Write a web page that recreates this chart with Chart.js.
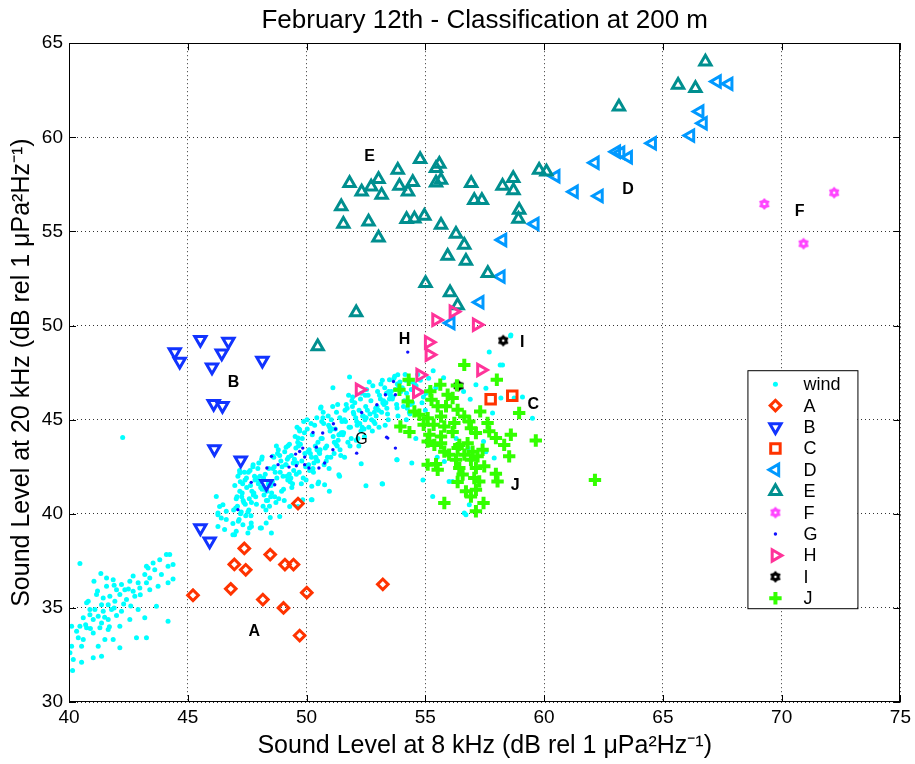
<!DOCTYPE html>
<html lang="en">
<head>
  <meta charset="UTF-8" />
  <title>February 12th - Classification at 200 m</title>
  <script src="https://cdn.jsdelivr.net/npm/chart.js"></script>
  <style>
    body { margin: 0; background: #fff; }
    .wrap { width: 915px; height: 764px; }
  </style>
</head>
<body>
  <div class="wrap"><canvas id="scatter" width="915" height="764"></canvas></div>

  <script>
    const chartTitle = "February 12th - Classification at 200 m";
    const xTitle = "Sound Level at 8 kHz (dB rel 1 \u03BCPa\u00B2Hz\u207B\u00B9)";
    const yTitle = "Sound Level at 20 kHz (dB rel 1 \u03BCPa\u00B2Hz\u207B\u00B9)";
    const xTicks = [40, 45, 50, 55, 60, 65, 70, 75];
    const yTicks = [30, 35, 40, 45, 50, 55, 60, 65];
    const seriesNames = ["wind", "A", "B", "C", "D", "E", "F", "G", "H", "I", "J"];

    // cluster letters written on the plot, in data units
    const groupNames = ["A", "B", "C", "D", "E", "F", "G", "H", "I", "J"];
    const groupLabelX = [47.8, 46.93, 59.54, 63.53, 52.65, 70.76, 52.31, 54.12, 59.08, 58.78];
    const groupLabelY = [33.74, 46.96, 45.79, 57.2, 59.0, 56.03, 43.93, 49.24, 49.08, 41.49];

    const windPts = [
      // low cloud
      [40.46,37.36],[41.34,36.83],[41.05,36.41],[41.58,36.59],[41.86,36.5],[42.21,36.24],[42.56,36.41],[42.91,36.33],
      [43.19,36.77],[43.33,37.12],[43.54,37.39],[43.82,37.56],[44.1,37.83],[44.24,37.83],[44.38,37.3],[44.17,37.21],
      [43.61,37.03],[43.89,36.77],[43.4,36.59],[43.26,36.33],[43.4,35.97],[43.75,36.15],[44.17,36.33],[44.38,36.54],
      [42.98,36.06],[42.7,35.88],[42.35,35.97],[42.14,35.71],[41.72,35.62],[41.44,35.53],[41.16,35.71],[40.81,35.35],
      [40.74,35.27],[41.37,35.17],[41.93,35.35],[42.42,35.44],[42.77,35.62],[42.91,34.91],[43.68,35.09],[43.19,34.47],
      [44.17,34.29],[41.09,34.91],[41.44,34.82],[41.79,34.91],[42.21,34.82],[42.56,34.38],[42.14,34.02],[41.65,33.85],
      [41.37,34.2],[41.02,34.38],[40.6,34.47],[40.46,34.02],[40.11,34.02],[40.32,33.76],[40.74,33.94],[41.02,33.67],
      [41.3,33.94],[40.39,33.41],[40.6,33.32],[40.11,32.96],[40.53,32.96],[41.23,32.96],[41.51,33.32],[41.86,33.32],
      [42.14,32.88],[42.84,33.41],[43.26,33.41],[40.04,32.61],[40.18,32.26],[40.53,32.11],[41.37,32.43],[41.02,32.35],
      [40.15,31.67],[40.88,34.91],[41.58,36.15],[42.0,35.97],[41.23,34.56],[41.65,34.38],[40.88,34.64],[41.65,35.17],
      [41.9,35.0],[42.3,35.2],[42.6,35.1],[41.5,34.5],[42.0,34.6],[41.2,35.9],[42.5,36.0],[43.0,35.7],[40.9,33.9],
      [41.7,34.0],[40.7,34.1],[41.9,36.2],[42.7,36.7],[43.26,37.21],
      // tail towards the main band
      [46.2,40.92],[46.27,39.95],[46.48,40.48],[46.62,39.69],[46.9,39.48],[47.32,39.42],[47.04,39.07],[47.53,38.98],
      [48.05,39.25],[48.3,39.51],[46.9,38.89],[46.55,39.16],[47.6,39.25],[46.27,40.04],[46.27,39.33],[46.97,38.89],
      [47.67,39.51],[48.52,38.98],[48.1,39.25],[47.68,39.33],[48.87,39.86],[49.64,40.39],[49.29,40.39],[49.84,40.75],
      [46.41,39.78],[46.62,40.13],[46.34,40.39],
      // main band
      [47.07,40.9],[47.31,41.6],[47.02,40.3],[47.44,39.9],[47.19,41.2],[47.36,40.6],[47.11,42.0],[47.48,41.4],[47.25,40.1],
      [47.04,40.8],[47.41,41.8],[47.16,39.7],[47.29,41.1],[47.09,40.4],[47.38,42.2],[47.22,40.0],[47.47,41.9],[47.13,39.6],
      [47.33,40.7],[46.98,41.5],[47.27,40.9],[47.42,40.5],[47.18,42.3],[46.93,40.2],[47.21,41.7],
      [47.57,40.2],[48.13,41.3],[47.81,42.0],[48.36,40.7],[47.66,39.9],[48.02,41.7],[48.44,40.4],[47.74,42.5],[48.21,41.0],
      [47.53,40.1],[47.92,41.9],[48.31,40.7],[47.62,42.3],[48.07,41.4],[48.47,39.8],[47.86,40.9],[48.26,42.1],[47.7,41.2],
      [48.17,40.4],[47.99,42.7],[48.39,41.6],[47.59,40.8],[48.04,42.0],[47.78,41.1],[48.29,40.2],[47.95,42.4],[48.42,41.5],
      [47.68,40.6],[48.11,42.9],[47.83,41.8],[48.49,40.9],[47.55,42.2],[48.24,41.3],[47.89,40.5],[48.33,41.2],[47.64,41.5],
      [48.19,41.9],[47.97,41.6],[48.41,42.4],[47.76,41.0],
      [48.56,41.7],[49.12,42.6],[48.83,40.8],[49.34,41.9],[48.62,43.0],[49.03,41.3],[49.46,42.3],[48.71,40.6],[49.21,41.8],
      [48.92,42.8],[48.53,41.1],[49.27,42.1],[48.78,43.2],[49.41,41.6],[48.97,42.5],[48.66,40.9],[49.17,42.0],[48.87,43.1],
      [49.38,41.4],[48.59,42.4],[49.08,43.3],[48.75,41.9],[49.44,42.7],[48.95,41.2],[49.24,43.0],[48.68,42.2],[49.31,41.7],
      [48.81,43.4],[49.14,42.6],[48.51,41.5],[49.36,43.1],[49.01,42.0],[49.49,42.9],[48.89,42.2],[49.19,42.9],[48.64,42.5],
      [49.06,40.7],[48.73,43.6],[49.28,43.7],
      [49.57,42.1],[50.06,43.3],[49.78,41.6],[50.31,42.7],[49.63,43.8],[50.13,42.3],[50.44,43.4],[49.86,41.9],[50.21,43.0],
      [49.52,44.1],[49.96,42.5],[50.37,43.6],[49.69,42.2],[50.16,43.2],[49.91,44.3],[50.47,42.8],[49.74,43.7],[50.27,42.4],
      [49.55,43.5],[50.03,44.5],[50.41,42.9],[49.82,44.0],[50.09,42.6],[49.66,43.6],[50.34,44.7],[49.93,43.2],[50.24,44.2],
      [49.59,42.7],[50.48,43.8],[49.88,44.9],[50.11,43.4],[49.71,44.4],[50.39,43.0],[49.6,44.6],[50.02,45.0],[50.29,42.2],
      [49.8,42.8],[50.19,44.8],[49.98,41.8],[50.43,45.1],
      [50.57,43.4],[51.08,44.5],[50.83,42.8],[51.33,43.9],[50.64,44.9],[51.16,43.2],[51.46,44.3],[50.74,42.6],[51.24,43.7],
      [50.93,44.7],[50.52,43.3],[51.38,44.2],[50.88,43.0],[51.12,44.1],[50.69,45.1],[51.29,43.6],[50.97,44.6],[51.44,43.1],
      [50.61,44.0],[51.04,45.0],[50.79,43.5],[51.21,44.5],[50.55,43.2],[51.36,44.2],[50.91,45.2],[51.17,43.8],[50.72,44.8],
      [51.41,43.4],[50.99,44.4],[51.26,45.4],[50.66,44.0],[51.49,44.9],[50.85,43.6],[50.7,45.4],[51.1,45.7],[50.95,42.4],
      [51.31,45.8],[50.59,45.6],[51.02,43.0],[51.4,45.1],
      [51.56,44.3],[52.07,45.1],[51.83,43.6],[52.34,44.6],[51.62,45.5],[52.16,44.0],[52.46,45.0],[51.74,43.8],[52.24,44.8],
      [51.93,45.7],[51.53,44.2],[52.39,45.2],[51.88,44.0],[52.11,44.9],[51.67,45.8],[52.29,44.4],[51.97,45.4],[52.44,44.1],
      [51.59,45.0],[52.03,45.9],[51.79,44.6],[52.21,45.5],[51.51,44.3],[52.36,45.2],[51.91,46.0],[52.13,44.7],[51.71,45.6],
      [52.42,44.5],[51.99,45.3],[52.27,46.1],[51.64,44.9],[52.49,45.7],[51.85,44.6],[51.6,43.0],[52.2,43.6],[51.94,46.2],
      [52.31,46.4],[51.77,46.3],[52.09,43.9],[52.47,46.3],
      [52.56,45.5],[53.07,46.3],[52.83,44.9],[53.34,45.9],[52.62,44.6],[53.16,45.4],[53.46,46.5],[52.74,45.0],[53.24,46.0],
      [52.93,45.2],[52.53,46.6],[53.38,45.6],[52.88,44.8],[53.11,46.1],[52.67,45.3],[53.29,46.7],[52.97,45.7],[53.44,45.0],
      [52.59,46.3],[53.03,45.5],[52.79,46.8],[53.21,45.9],[52.51,45.1],[53.36,46.4],[52.91,45.6],[53.13,46.9],[52.71,46.0],
      [53.41,45.3],[52.99,46.5],[53.26,45.8],[52.64,47.0],[53.49,46.1],[52.85,45.4],[53.19,47.1],[52.77,44.4],[53.31,44.7],
      [53.05,44.6],
      [53.57,46.5],[54.08,45.7],[53.82,46.9],[54.33,45.4],[53.63,46.2],[54.17,47.1],[54.46,45.9],[53.74,46.6],[54.24,45.6],
      [53.93,47.0],[53.53,46.3],[54.38,45.8],[53.88,46.8],[54.12,46.0],[53.68,47.2],[54.29,45.9],[53.97,46.5],[54.44,47.0],
      [53.61,46.1],[54.03,46.7],[53.79,45.8],[54.21,46.4],[53.71,47.3],[54.41,46.6],[53.85,45.2],[54.15,47.4],[54.35,45.3],
      [54.55,46.9],[54.92,46.2],[54.68,47.4],[55.21,46.6],[54.79,47.1],[55.03,46.4],[55.33,47.6],[54.61,46.8],[55.14,47.2],
      [54.86,45.9],[55.44,46.7],
      // stray points
      [42.26,44.05],[52.5,41.49],[53.2,41.58],[52.3,42.66],[53.8,42.87],[51.81,47.26],[51.36,42.07],[50.76,41.54],
      [50.2,40.75],[50.48,41.6],[49.71,44.46],[48.13,43.02],[49.14,43.54],[51.39,41.99],[51.11,46.7],[50.61,45.67],
      [49.68,44.5],[49.64,44.02],[49.22,43.61],[48.58,43.05],[47.75,42.61],[47.19,42.17],[50.23,40.75],[50.22,41.46],
      [50.51,41.69],[50.96,41.19],[53.84,47.38],[53.49,47.12],
      [57.69,48.6],[58.15,47.91],[55.77,47.23],[57.55,46.67],[58.18,46.15],[56.89,46.09],[56.61,46.5],[57.83,45.35],
      [59.51,45.08],[53.81,45.62],[54.43,42.7],[53.81,42.87],[55.8,42.78],[55.31,40.92],[56.71,39.95],[56.15,41.72],
      [56.85,40.48],[57.55,43.3],[57.9,42.96],[57.45,43.84],[58.6,49.5],[58.25,47.91],[58.74,46.15],[59.09,46.2],
      [57.13,46.86],[56.64,40.04],[56.0,41.72],[53.18,41.6],[58.59,49.45],[55.0,45.5],[54.6,44.0],[55.5,43.0],
      [56.3,44.0],[54.2,45.0],[55.2,46.6],[56.8,43.5],[54.9,41.8]
    ];
    const classA = [[49.64,40.54],[47.38,38.16],[48.47,37.83],[46.96,37.31],[47.44,37.02],[49.09,37.3],[49.45,37.3],
      [46.81,36.01],[45.22,35.67],[48.16,35.44],[50.01,35.81],[49.03,35.0],[49.71,33.53],[53.21,36.25]];
    const classB = [[44.45,48.6],[44.66,48.09],[45.53,49.24],[46.71,49.15],[46.43,48.53],[46.02,47.79],[48.14,48.14],
      [46.09,45.84],[46.46,45.74],[46.12,43.44],[47.23,42.84],[48.31,41.6],[45.53,39.25],[45.92,38.54]];
    const classC = [[57.75,46.09],[58.66,46.27]];
    const classD = [[60.49,57.93],[61.26,57.11],[59.61,55.4],[58.25,54.55],[58.18,52.6],[57.29,51.24],[56.07,50.13],
      [62.31,56.88],[62.14,58.65],[63.04,59.23],[63.22,59.18],[63.54,58.94],[64.55,59.68],[66.16,60.09],[66.69,60.75],
      [66.55,61.37],[67.28,62.96],[67.77,62.84]];
    const classE = [[54.78,58.83],[55.59,58.58],[55.45,58.35],[53.84,58.26],[51.81,57.56],[53.03,57.77],[52.72,57.38],
      [52.32,57.11],[53.16,56.94],[53.91,57.42],[54.47,57.61],[54.27,57.11],[55.45,57.59],[55.66,57.73],[56.93,57.56],
      [58.25,57.42],[58.7,57.83],[58.71,57.17],[57.06,56.65],[57.38,56.65],[59.79,58.26],[60.1,58.17],[51.46,56.32],
      [58.95,56.14],[58.92,55.66],[51.55,55.4],[52.61,55.52],[54.21,55.65],[54.54,55.68],[54.96,55.82],[55.66,55.34],
      [53.03,54.67],[56.29,54.87],[56.64,54.28],[55.94,53.7],[56.71,53.43],[57.63,52.78],[55.01,52.25],[56.04,51.75],
      [56.36,51.06],[52.09,50.69],[50.47,48.88],[66.79,64.01],[65.64,62.78],[66.37,62.6],[63.15,61.62]];
    const classF = [[69.27,56.46],[72.21,57.06],[70.92,54.35]];
    const classG = [[53.66,47.03],[53.32,46.32],[52.96,45.79],[52.32,45.38],[51.13,44.78],[51.22,44.5],[50.68,44.29],
      [50.27,44.32],[51.11,43.4],[50.76,42.7],[49.84,43.49],[49.71,43.31],[49.54,43.17],[49.92,43.01],[49.92,42.61],
      [49.57,42.55],[49.26,42.48],[50.1,42.43],[48.8,42.61],[48.52,43.05],[48.33,42.43],[47.67,41.67],[48.66,41.54],
      [47.11,40.22],[52.11,43.22],[53.42,44.02],[53.74,43.49],[50.41,43.54],[50.52,42.43],[54.26,48.59],[53.74,46.32],
      [53.37,44.07]];
    const classH = [[55.45,50.3],[56.18,50.74],[57.16,50.04],[55.14,49.11],[55.17,48.45],[54.78,47.37],[54.64,46.47],
      [57.34,47.64],[52.23,46.59]];
    const classI = [[58.28,49.2],[56.4,46.8]];
    const classJ = [[56.64,47.91],[58.01,47.12],[54.3,47.12],[53.91,46.59],[55.63,46.86],[56.33,46.82],[55.21,46.51],
      [55.94,46.32],[54.26,45.97],[55.26,46.06],[56.15,46.15],[55.52,45.71],[55.87,45.71],[58.95,45.35],[57.31,45.44],
      [54.75,45.26],[55.1,45.08],[55.66,45.17],[56.64,45.17],[53.95,44.64],[54.33,44.34],[54.93,44.73],[55.35,44.73],
      [55.8,44.64],[56.22,44.82],[56.85,44.9],[56.92,44.55],[57.62,44.82],[57.69,44.38],[55.17,44.2],[55.66,44.11],
      [56.15,44.34],[57.13,44.29],[58.6,44.2],[55.1,43.84],[55.66,43.75],[56.43,43.66],[56.78,43.75],[57.97,44.02],
      [58.32,43.66],[59.65,43.89],[55.8,43.3],[56.36,43.49],[56.64,43.14],[57.2,43.05],[57.41,43.4],[58.53,43.05],
      [56.29,42.87],[56.92,42.87],[55.1,42.61],[55.45,42.64],[55.52,42.34],[56.43,42.43],[57.13,42.43],[57.48,42.52],
      [56.57,42.08],[57.97,42.12],[56.36,41.69],[57.06,41.9],[57.27,41.72],[58.04,41.72],[56.71,41.19],[57.13,41.28],
      [56.92,40.92],[57.45,40.57],[55.8,40.57],[57.13,40.13],[62.14,41.8],[54.54,45.44],[56.36,45.52],[55.38,43.66],
      [56.99,43.3],[56.0,43.14]];

    // filled six-point star used for F and I
    function starMarker(color, outer, inner, hole) {
      const c = document.createElement("canvas");
      const s = Math.ceil(outer * 2 + 2);
      c.width = s; c.height = s;
      const g = c.getContext("2d");
      g.translate(s / 2, s / 2);
      g.beginPath();
      for (let i = 0; i < 12; i++) {
        const r = i % 2 === 0 ? outer : inner;
        const a = -Math.PI / 2 + i * Math.PI / 6;
        g.lineTo(r * Math.cos(a), r * Math.sin(a));
      }
      g.closePath();
      g.fillStyle = color;
      g.fill();
      g.beginPath();
      g.arc(0, 0, hole, 0, 2 * Math.PI);
      g.fillStyle = "#fff";
      g.fill();
      return c;
    }

    const none = "rgba(0,0,0,0)";
    const toXY = pts => pts.map(p => ({ x: p[0], y: p[1] }));

    const datasets = [
      { data: toXY(windPts), pointStyle: "circle", pointRadius: 2.5, borderWidth: 0, backgroundColor: "#00ffff", borderColor: "#00ffff" },
      { data: toXY(classA), pointStyle: "rectRot", pointRadius: 5.3, borderWidth: 3, backgroundColor: none, borderColor: "#ff3300" },
      { data: toXY(classB), pointStyle: "triangle", rotation: 180, pointRadius: 6.5, borderWidth: 3, backgroundColor: none, borderColor: "#1133ff" },
      { data: toXY(classC), pointStyle: "rect", pointRadius: 6.7, borderWidth: 3, backgroundColor: none, borderColor: "#ff3300" },
      { data: toXY(classD), pointStyle: "triangle", rotation: 270, pointRadius: 6.5, borderWidth: 3, backgroundColor: none, borderColor: "#0099ff" },
      { data: toXY(classE), pointStyle: "triangle", rotation: 0, pointRadius: 6.5, borderWidth: 3, backgroundColor: none, borderColor: "#008f8f" },
      { data: toXY(classF), pointStyle: starMarker("#ff44ff", 6, 4.2, 1.3), pointRadius: 5, borderWidth: 0, backgroundColor: "#ff44ff", borderColor: "#ff44ff" },
      { data: toXY(classG), pointStyle: "circle", pointRadius: 1.7, borderWidth: 0, backgroundColor: "#1111ff", borderColor: "#1111ff" },
      { data: toXY(classH), pointStyle: "triangle", rotation: 90, pointRadius: 6.5, borderWidth: 3, backgroundColor: none, borderColor: "#ff3399" },
      { data: toXY(classI), pointStyle: starMarker("#000", 6, 4.2, 1.3), pointRadius: 5, borderWidth: 0, backgroundColor: "#000", borderColor: "#000" },
      { data: toXY(classJ), pointStyle: "cross", pointRadius: 6.2, borderWidth: 4, backgroundColor: none, borderColor: "#33ff00" }
    ].map((ds, i) => Object.assign(ds, {
      label: seriesNames[i],
      order: 10 - i,
      showLine: false,
      pointHoverRadius: ds.pointRadius
    }));

    const fontFamily = '"Liberation Sans", Arial, Helvetica, sans-serif';

    const overlay = {
      id: "overlay",
      afterDatasetsDraw(chart) {
        const { ctx, chartArea: a, scales: { x, y } } = chart;
        ctx.save();

        // axis box and inward ticks
        ctx.strokeStyle = "#000";
        ctx.lineWidth = 1;
        ctx.strokeRect(Math.round(a.left) + 0.5, Math.round(a.top) + 0.5,
          Math.round(a.width) - 1, Math.round(a.height) - 1);
        ctx.beginPath();
        xTicks.forEach(v => {
          const px = Math.round(x.getPixelForValue(v)) + 0.5;
          ctx.moveTo(px, a.bottom); ctx.lineTo(px, a.bottom - 7);
          ctx.moveTo(px, a.top); ctx.lineTo(px, a.top + 7);
        });
        yTicks.forEach(v => {
          const py = Math.round(y.getPixelForValue(v)) + 0.5;
          ctx.moveTo(a.left, py); ctx.lineTo(a.left + 7, py);
          ctx.moveTo(a.right, py); ctx.lineTo(a.right - 7, py);
        });
        ctx.stroke();

        // cluster letters
        ctx.fillStyle = "#000";
        ctx.textAlign = "center";
        ctx.textBaseline = "middle";
        groupNames.forEach((n, i) => {
          ctx.font = (n === "G" ? "" : "bold ") + "16px " + fontFamily;
          ctx.fillText(n, x.getPixelForValue(groupLabelX[i]), y.getPixelForValue(groupLabelY[i]));
        });

        // legend box
        const bx = a.right - 153, by = a.top + 327, bw = 110, bh = 238;
        ctx.fillStyle = "#fff";
        ctx.fillRect(bx, by, bw, bh);
        ctx.strokeStyle = "#000";
        ctx.lineWidth = 1;
        ctx.strokeRect(bx + 0.5, by + 0.5, bw, bh);
        ctx.textAlign = "left";
        ctx.font = "18px " + fontFamily;
        chart.data.datasets.forEach((ds, i) => {
          const cy = by + 14 + i * 21.4;
          ctx.fillStyle = ds.backgroundColor;
          ctx.strokeStyle = ds.borderColor;
          ctx.lineWidth = ds.borderWidth;
          Chart.helpers.drawPoint(ctx, {
            pointStyle: ds.pointStyle,
            radius: ds.pointRadius,
            rotation: ds.rotation || 0,
            borderWidth: ds.borderWidth
          }, bx + 28, cy);
          ctx.fillStyle = "#000";
          ctx.fillText(ds.label, bx + 56, cy + 1);
        });
        ctx.restore();
      }
    };

    window.onload = function () {
      const ctx = document.getElementById("scatter").getContext("2d");
      new Chart(ctx, {
        type: "scatter",
        data: { datasets: datasets },
        options: {
          responsive: false,
          animation: false,
          layout: { padding: { left: 0, right: 13, top: 0, bottom: 0 } },
          plugins: {
            legend: { display: false },
            tooltip: { enabled: false },
            title: {
              display: true,
              fullSize: false,
              text: chartTitle,
              color: "#000",
              font: { family: fontFamily, size: 26, weight: "normal" },
              padding: { top: 5, bottom: 7 }
            }
          },
          scales: {
            x: {
              type: "linear",
              min: 40, max: 75,
              afterBuildTicks: s => { s.ticks = xTicks.map(v => ({ value: v })); },
              afterFit: s => { s.height = 62; },
              ticks: { color: "#000", font: { family: fontFamily, size: 19 }, padding: 4, maxRotation: 0 },
              grid: { color: "#333", lineWidth: 1, drawTicks: false },
              border: { display: false, dash: [1, 3] },
              title: { display: true, text: xTitle, color: "#000", font: { family: fontFamily, size: 25 }, padding: { top: 0, bottom: 3 } }
            },
            y: {
              type: "linear",
              min: 30, max: 65,
              afterBuildTicks: s => { s.ticks = yTicks.map(v => ({ value: v })); },
              afterFit: s => { s.width = 69; },
              ticks: { color: "#000", font: { family: fontFamily, size: 19 }, padding: 6 },
              grid: { color: "#333", lineWidth: 1, drawTicks: false },
              border: { display: false, dash: [1, 3] },
              title: { display: true, text: yTitle, color: "#000", font: { family: fontFamily, size: 25 }, padding: { top: 7, bottom: 0 } }
            }
          }
        },
        plugins: [overlay]
      });
    };
  </script>
</body>
</html>
